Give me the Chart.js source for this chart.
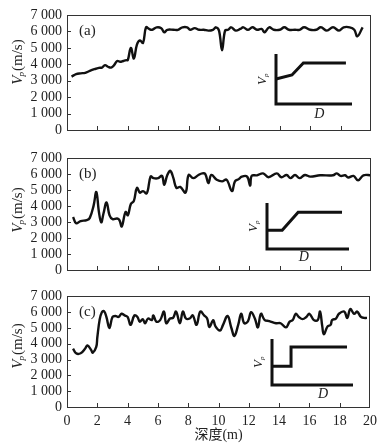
<!DOCTYPE html>
<html>
<head>
<meta charset="utf-8">
<script src="https://cdn.jsdelivr.net/npm/chart.js@4"></script>
<style>
  body { margin: 0; background: #fff; }
  #wrap { position: relative; width: 383px; height: 444px; }
  canvas { position: absolute; }
</style>
</head>
<body>
<div id="wrap">
  <canvas id="pa" width="383" height="145" style="left:0;top:0"></canvas>
  <canvas id="pb" width="383" height="140" style="left:0;top:145px"></canvas>
  <canvas id="pc" width="383" height="161" style="left:0;top:283px"></canvas>
  <canvas id="ia" width="115" height="80" style="left:249px;top:46px"></canvas>
  <canvas id="ib" width="120" height="75" style="left:240px;top:195px"></canvas>
  <canvas id="ic" width="120" height="75" style="left:245px;top:331px"></canvas>
</div>
<script>
// 深度 (m) 和 Vp (m/s)
const depthA = [0.3, 0.6, 0.9, 1.2, 1.5, 1.8, 2.1, 2.3, 2.5, 2.7, 2.9, 3.1, 3.3, 3.5, 3.7, 3.9, 4.0, 4.2, 4.4, 4.6, 4.8, 5.0, 5.2,
  5.4, 5.6, 5.9, 6.2, 6.4, 6.6, 7.0, 7.3, 7.6, 7.9, 8.1, 8.4, 8.7, 9.0, 9.3, 9.6, 9.8, 10.0, 10.2, 10.4, 10.6, 10.8,
  11.1, 11.4, 11.6, 11.9, 12.2, 12.5, 12.8, 13.0, 13.3, 13.6, 14.0, 14.3, 14.6, 15.0, 15.3, 15.6, 16.0, 16.4, 16.7,
  17.1, 17.5, 17.9, 18.2, 18.6, 18.9, 19.1, 19.45];
const vpA = [3250, 3400, 3450, 3480, 3600, 3700, 3780, 3800, 3950, 3850, 3800, 3950, 4200, 4150, 4200, 4250, 4250, 5000, 4350, 5200, 5450, 5300, 6250,
  6150, 6100, 6250, 6200, 5950, 6100, 6100, 6100, 6250, 6250, 6100, 6200, 6100, 6100, 6050, 6100, 6250, 6050, 4850, 6050, 6100, 6250,
  6050, 6150, 6250, 6100, 6250, 6100, 6150, 5950, 6250, 6100, 6100, 6250, 6100, 6100, 6100, 6250, 6100, 6100, 6250,
  6050, 6250, 6050, 6250, 6250, 6100, 5700, 6250];

const depthB = [0.4, 0.6, 0.9, 1.3, 1.5, 1.75, 1.93, 2.1, 2.25, 2.4, 2.6, 2.8, 3.0, 3.3, 3.45, 3.6, 3.85, 4.0, 4.2, 4.4, 4.6, 4.8, 5.0, 5.25,
  5.5, 5.7, 6.0, 6.25, 6.4, 6.6, 6.8, 7.0, 7.2, 7.45, 7.8, 8.0, 8.3, 8.65, 8.9, 9.1, 9.3, 9.5, 9.85, 10.2, 10.5, 10.85,
  11.05, 11.3, 11.5, 11.85, 12.05, 12.15, 12.5, 12.9, 13.25, 13.8, 14.1, 14.45, 14.7, 15.0, 15.3, 15.65, 16.0, 16.65,
  17.5, 17.75, 18.0, 18.3, 18.5, 18.85, 19.15, 19.5, 20];
const vpB = [3330, 2930, 3070, 3130, 3270, 4040, 4890, 3640, 2990, 3540, 4240, 3430, 3190, 3230, 3130, 2730, 3640, 3430, 4140, 4340, 5150, 4850, 4950, 4810,
  5860, 5760, 5760, 5900, 5350, 5960, 6220, 5760, 5150, 5210, 4850, 5960, 5760, 5960, 6060, 6020, 5450, 5960, 5660, 5560, 5660, 4950,
  5560, 5700, 5860, 5860, 5290, 5900, 5940, 6060, 5820, 6060, 5820, 5960, 5760, 5960, 5760, 5960, 5860, 5940,
  5940, 6060, 5900, 5940, 5800, 5900, 5620, 5940, 5940];

const depthC = [0.4, 0.6, 0.9, 1.2, 1.35, 1.6, 1.7, 1.93, 2.0, 2.15, 2.3, 2.45, 2.6, 2.8, 3.0, 3.2, 3.4, 3.6, 3.8, 4.0, 4.2, 4.45, 4.65, 4.8,
  5.0, 5.15, 5.35, 5.6, 5.7, 5.9, 6.15, 6.4, 6.55, 6.8, 7.0, 7.2, 7.45, 7.65, 7.85, 8.1, 8.3, 8.55, 8.8, 9.05, 9.25, 9.4,
  9.65, 9.8, 10.1, 10.3, 10.6, 10.85, 11.05, 11.3, 11.5, 11.7, 11.95, 12.15, 12.4, 12.6, 12.8, 13.05, 13.35, 13.8, 14.1,
  14.45, 14.7, 14.9, 15.1, 15.3, 15.55, 15.8, 16.0, 16.3, 16.55, 16.7, 16.85, 16.95, 17.2, 17.4, 17.5, 17.75, 17.95,
  18.3, 18.5, 18.7, 18.95, 19.15, 19.4, 19.6, 19.8];
const vpC = [3700, 3400, 3400, 3700, 3900, 3600, 3440, 3800, 4400, 5500, 6000, 6060, 5700, 5000, 5700, 5760, 5700, 5900, 5800, 5700, 5200, 5800, 5700, 5400,
  5560, 5300, 5600, 5500, 5800, 5400, 5500, 6040, 5300, 5600, 5640, 6040, 5300, 6040, 5600, 5600, 5800, 5200, 6040, 5800, 5600, 5060,
  5500, 5100, 4840, 5200, 5760, 5000, 4500, 5200, 5900, 5300, 5440, 6000, 5600, 5040, 5900, 5500, 5440, 5300, 5300,
  5040, 5400, 5500, 5900, 5700, 5560, 5700, 5900, 5500, 5500, 6040, 5100, 4600, 5100, 5200, 5500, 5600, 5900,
  6040, 5640, 6200, 5900, 6040, 5700, 5640, 5640];

const xTicks = [0, 2, 4, 6, 8, 10, 12, 14, 16, 18, 20];
const yTicks = [0, 1000, 2000, 3000, 4000, 5000, 6000, 7000];

// 插图示意 (任意单位)
const insetAxisX = [0, 0, 10];
const insetAxisY = [10, 0, 0];
const insetAX = [0, 2.1, 3.6, 9.2];
const insetAY = [5.0, 5.8, 8.2, 8.2];
const insetBX = [0, 1.85, 3.8, 9.15];
const insetBY = [4.1, 4.1, 8.0, 8.0];
const insetCX = [0, 2.35, 2.35, 9.26];
const insetCY = [4.1, 4.1, 8.25, 8.25];

const SERIF = "'Liberation Serif', 'Times New Roman', serif";

function toPoints(xs, ys) {
  return xs.map((x, i) => ({ x: x, y: ys[i] }));
}

function fmt(v) {
  return v >= 1000 ? Math.floor(v / 1000) + " 000" : String(v);
}

// 边框、内向刻度、面板标签、纵轴标题
const framePlugin = {
  id: "frame",
  afterDraw(chart, args, opts) {
    const { ctx, chartArea: a, scales } = chart;
    ctx.save();
    ctx.strokeStyle = "#333";
    ctx.lineWidth = 1;
    ctx.strokeRect(Math.round(a.left) + 0.5, Math.round(a.top) + 0.5,
      Math.round(a.width) - 1, Math.round(a.height));
    ctx.beginPath();
    xTicks.forEach(t => {
      if (t === 0 || t === 20) return;
      const x = Math.round(scales.x.getPixelForValue(t)) + 0.5;
      ctx.moveTo(x, a.bottom);
      ctx.lineTo(x, a.bottom - 4);
    });
    yTicks.forEach(t => {
      if (t === 0 || t === 7000) return;
      const y = Math.round(scales.y.getPixelForValue(t)) + 0.5;
      ctx.moveTo(a.left, y);
      ctx.lineTo(a.left + 4, y);
    });
    ctx.stroke();

    ctx.fillStyle = "#222";
    ctx.textBaseline = "middle";
    ctx.font = "15px " + SERIF;
    ctx.fillText(opts.label, a.left + 12, a.top + 16);

    // Vp(m/s)
    ctx.translate(18, opts.titleY);
    ctx.rotate(-Math.PI / 2);
    const fV = "italic 15px " + SERIF, fP = "italic 9px " + SERIF, fU = "15px " + SERIF;
    ctx.font = fV; const wV = ctx.measureText("V").width;
    ctx.font = fP; const wP = ctx.measureText("p").width;
    ctx.font = fU; const wU = ctx.measureText("(m/s)").width;
    let x = -(wV + wP + wU) / 2;
    ctx.textAlign = "left";
    ctx.font = fV; ctx.fillText("V", x, 0); x += wV;
    ctx.font = fP; ctx.fillText("p", x - 1, 4); x += wP;
    ctx.font = fU; ctx.fillText("(m/s)", x, 0);
    ctx.restore();
  }
};

function makePanel(id, xs, ys, padTop, xHeight, showX, label, titleY) {
  return new Chart(document.getElementById(id), {
    type: "line",
    data: {
      datasets: [{
        data: toPoints(xs, ys),
        borderColor: "#111",
        borderWidth: 2.4,
        pointRadius: 0,
        tension: 0.4,
        fill: false
      }]
    },
    options: {
      responsive: false,
      animation: false,
      layout: { padding: { top: padTop, right: 12, left: 0, bottom: 0 } },
      plugins: {
        legend: { display: false },
        tooltip: { enabled: false },
        frame: { label: label, titleY: titleY }
      },
      scales: {
        x: {
          type: "linear",
          min: 0,
          max: 20,
          afterBuildTicks: s => { s.ticks = xTicks.map(v => ({ value: v })); },
          afterFit: s => { s.height = xHeight; },
          grid: { display: false, drawTicks: false },
          border: { display: false },
          ticks: {
            display: showX,
            autoSkip: false,
            padding: 6,
            color: "#222",
            font: { family: SERIF, size: 14 },
            maxRotation: 0
          },
          title: {
            display: showX,
            text: "深度(m)",
            color: "#222",
            padding: 0,
            font: { family: "'Liberation Serif', 'Noto Sans CJK SC', serif", size: 14 }
          }
        },
        y: {
          min: 0,
          max: 7000,
          afterBuildTicks: s => { s.ticks = yTicks.map(v => ({ value: v })); },
          afterFit: s => { s.width = 67; },
          grid: { display: false, drawTicks: false },
          border: { display: false },
          ticks: {
            autoSkip: false,
            padding: 5,
            color: "#222",
            font: { family: SERIF, size: 14 },
            callback: v => fmt(v)
          }
        }
      }
    },
    plugins: [framePlugin]
  });
}

makePanel("pa", depthA, vpA, 15, 15, false, "(a)", 62);
makePanel("pb", depthB, vpB, 8, 15, false, "(b)", 65);
makePanel("pc", depthC, vpC, 8, 37, true, "(c)", 63);

// 插图的文字
const insetLabels = {
  id: "insetLabels",
  afterDraw(chart, args, opts) {
    const { ctx, chartArea: a } = chart;
    ctx.save();
    ctx.fillStyle = "#222";
    ctx.textBaseline = "middle";
    ctx.textAlign = "center";
    ctx.font = "italic 14px " + SERIF;
    ctx.fillText("D", a.left + a.width * opts.dx, a.bottom + opts.dy);
    ctx.translate(a.left - 13, (a.top + a.bottom) / 2);
    ctx.rotate(-Math.PI / 2);
    ctx.textAlign = "left";
    ctx.font = "italic 13px " + SERIF;
    const w = ctx.measureText("V").width;
    ctx.fillText("V", -w / 2 - 2, 0);
    ctx.font = "italic 7px " + SERIF;
    ctx.fillText("p", w / 2 - 2, 3);
    ctx.restore();
  }
};

function makeInset(id, cx, cy, pad, dx, dy) {
  return new Chart(document.getElementById(id), {
    type: "line",
    data: {
      datasets: [
        { data: toPoints(insetAxisX, insetAxisY) },
        { data: toPoints(cx, cy) }
      ]
    },
    options: {
      responsive: false,
      animation: false,
      layout: { padding: pad },
      elements: {
        line: { borderColor: "#111", borderWidth: 3, tension: 0, borderJoinStyle: "miter", fill: false },
        point: { radius: 0 }
      },
      datasets: { line: { clip: false } },
      plugins: {
        legend: { display: false },
        tooltip: { enabled: false },
        insetLabels: { dx: dx, dy: dy }
      },
      scales: {
        x: { type: "linear", display: false, min: 0, max: 10 },
        y: { type: "linear", display: false, min: 0, max: 10 }
      }
    },
    plugins: [insetLabels]
  });
}

makeInset("ia", insetAX, insetAY, { left: 27, right: 12, top: 8, bottom: 22 }, 0.57, 10);
makeInset("ib", insetBX, insetBY, { left: 27, right: 11, top: 8, bottom: 21 }, 0.45, 8);
makeInset("ic", insetCX, insetCY, { left: 27, right: 12, top: 8, bottom: 21 }, 0.63, 9);
</script>
</body>
</html>
